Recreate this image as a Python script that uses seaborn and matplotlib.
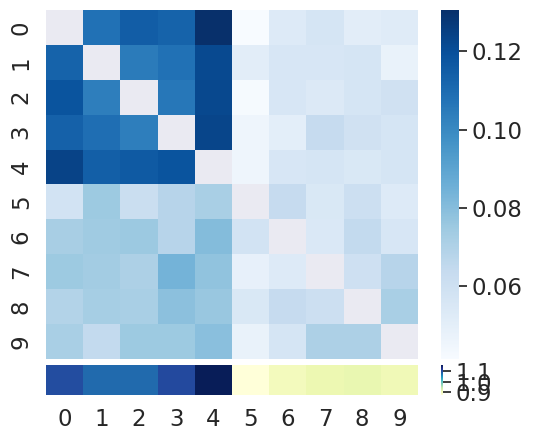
import matplotlib
matplotlib.use("Agg")
import matplotlib.pyplot as plt
import numpy as np
import seaborn as sns

# pairwise values, diagonal left empty
nan = np.nan
row0 = [nan, 0.108, 0.115, 0.113, 0.1305, 0.0415, 0.053, 0.057, 0.051, 0.0526]
row1 = [0.113, nan, 0.105, 0.108, 0.122, 0.051, 0.056, 0.056, 0.057, 0.048]
row2 = [0.118, 0.104, nan, 0.106, 0.1225, 0.0425, 0.056, 0.054, 0.057, 0.0595]
row3 = [0.1135, 0.109, 0.104, nan, 0.1235, 0.046, 0.0504, 0.0638, 0.0593, 0.057]
row4 = [0.124, 0.1145, 0.116, 0.118, nan, 0.046, 0.056, 0.057, 0.055, 0.057]
row5 = [0.0585, 0.075, 0.062, 0.068, 0.072, nan, 0.0638, 0.055, 0.061, 0.053]
row6 = [0.0722, 0.0745, 0.0755, 0.068, 0.0807, 0.0585, nan, 0.0545, 0.0646, 0.056]
row7 = [0.075, 0.0736, 0.071, 0.084, 0.078, 0.049, 0.053, nan, 0.060, 0.068]
row8 = [0.069, 0.0727, 0.072, 0.079, 0.076, 0.055, 0.0638, 0.061, nan, 0.072]
row9 = [0.072, 0.0646, 0.075, 0.075, 0.0793, 0.048, 0.057, 0.071, 0.071, nan]
matrix = np.array([row0, row1, row2, row3, row4, row5, row6, row7, row8, row9])

# summary row shown underneath
summary = np.array([[1.103, 1.08, 1.08, 1.106, 1.16, 0.875, 0.90, 0.91, 0.915, 0.906]])

labels = list(range(10))

sns.set(font_scale=1.5)

fig, (ax1, ax2) = plt.subplots(2, 1, figsize=(5.33, 4.41), dpi=100,
                               gridspec_kw={"height_ratios": [349, 30]})
fig.subplots_adjust(left=0.0863, right=0.9587, top=0.9773, bottom=0.1043, hspace=0.032)

sns.heatmap(matrix, cmap="Blues", ax=ax1, xticklabels=False, yticklabels=labels)
sns.heatmap(summary, cmap="YlGnBu", ax=ax2, xticklabels=labels, yticklabels=False)

# no grid lines through the empty diagonal
ax1.grid(False)
ax2.grid(False)

plt.savefig("out.png")
